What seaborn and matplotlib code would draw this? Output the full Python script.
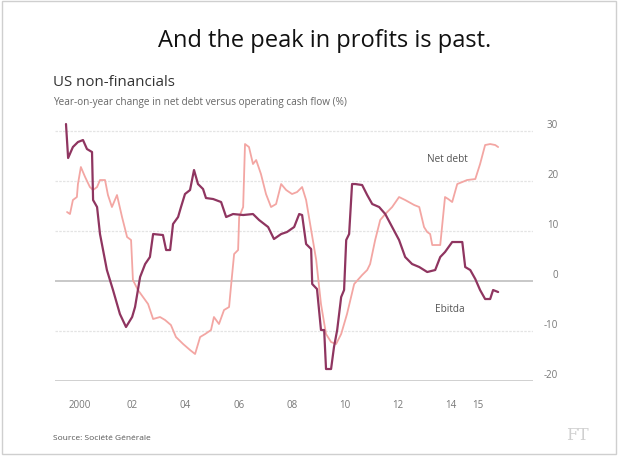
import numpy as np
import pandas as pd
import matplotlib.pyplot as plt
import matplotlib.transforms as mtransforms
from matplotlib.patches import Rectangle
import seaborn as sns

# valeurs (annee decimale, % sur un an)
ebitda_t = [2000.00, 2000.08, 2000.26, 2000.45, 2000.64, 2000.79, 2000.98, 2001.02, 2001.17,
            2001.28, 2001.54, 2001.77, 2002.03, 2002.26, 2002.49, 2002.60, 2002.79, 2002.98,
            2003.16, 2003.28, 2003.65, 2003.77, 2003.92, 2004.03, 2004.22, 2004.33, 2004.48,
            2004.67, 2004.82, 2004.97, 2005.16, 2005.27, 2005.54, 2005.84, 2006.03, 2006.29,
            2006.67, 2007.04, 2007.27, 2007.61, 2007.83, 2008.10, 2008.32, 2008.59, 2008.78,
            2008.89, 2009.04, 2009.23, 2009.27, 2009.45, 2009.60, 2009.72, 2009.79, 2009.98,
            2010.09, 2010.21, 2010.36, 2010.47, 2010.55, 2010.66, 2010.77, 2010.89, 2011.15,
            2011.34, 2011.53, 2011.79, 2012.02, 2012.28, 2012.54, 2012.77, 2013.03, 2013.30,
            2013.60, 2013.90, 2014.09, 2014.27, 2014.54, 2014.92, 2015.03, 2015.22, 2015.41,
            2015.59, 2015.78, 2015.97, 2016.08, 2016.27]
ebitda_v = [31.4, 24.6, 26.8, 27.8, 28.2, 26.4, 25.8, 16.2, 14.8,
            9.4, 2.2, -1.8, -6.6, -9.2, -7.2, -5.2, 0.8, 3.4,
            4.8, 9.4, 9.2, 6.2, 6.2, 11.4, 12.8, 14.8, 17.4,
            18.2, 22.2, 19.4, 18.4, 16.6, 16.4, 15.8, 12.8, 13.4,
            13.2, 13.4, 12.2, 10.8, 8.4, 9.4, 9.8, 10.8, 13.4,
            13.2, 7.4, 6.4, -0.6, -1.6, -9.8, -9.8, -17.6, -17.6,
            -13.2, -9.8, -3.2, -1.8, 8.2, 9.4, 19.4, 19.4, 19.2,
            17.2, 15.4, 14.8, 13.4, 10.8, 8.2, 4.8, 3.4, 2.8,
            1.8, 2.2, 4.8, 5.8, 7.8, 7.8, 2.8, 2.2, 0.4,
            -1.8, -3.6, -3.6, -1.8, -2.2]

netdebt_t = [2000.04, 2000.15, 2000.26, 2000.41, 2000.45, 2000.56, 2000.72, 2000.90, 2001.02,
             2001.17, 2001.28, 2001.47, 2001.58, 2001.73, 2001.92, 2002.11, 2002.30, 2002.45,
             2002.52, 2002.71, 2002.90, 2003.09, 2003.28, 2003.54, 2003.73, 2003.95, 2004.14,
             2004.41, 2004.67, 2004.86, 2005.05, 2005.24, 2005.46, 2005.57, 2005.76, 2005.95,
             2006.14, 2006.21, 2006.33, 2006.48, 2006.52, 2006.67, 2006.74, 2006.89, 2007.04,
             2007.16, 2007.34, 2007.53, 2007.72, 2007.91, 2008.10, 2008.29, 2008.51, 2008.70,
             2008.89, 2009.04, 2009.23, 2009.42, 2009.60, 2009.79, 2009.98, 2010.17, 2010.36,
             2010.58, 2010.85, 2011.15, 2011.34, 2011.45, 2011.64, 2011.83, 2012.02, 2012.28,
             2012.54, 2012.77, 2013.11, 2013.30, 2013.48, 2013.60, 2013.71, 2013.79, 2014.09,
             2014.27, 2014.39, 2014.54, 2014.73, 2014.92, 2015.10, 2015.41, 2015.59, 2015.78,
             2015.97, 2016.16, 2016.27]
netdebt_v = [13.8, 13.4, 16.2, 16.8, 19.4, 22.8, 20.8, 18.8, 18.2,
             18.8, 20.2, 20.2, 17.2, 14.8, 17.2, 12.8, 8.8, 8.2,
             0.2, -1.8, -3.2, -4.6, -7.6, -7.2, -7.8, -8.8, -11.2,
             -12.6, -13.8, -14.6, -11.2, -10.6, -9.8, -7.2, -8.6, -5.8,
             -5.2, -1.2, 5.4, 6.2, 12.8, 14.8, 27.4, 26.8, 23.4,
             24.2, 21.4, 17.4, 14.8, 15.4, 19.4, 18.2, 17.4, 17.8,
             18.8, 16.2, 10.2, 4.2, -4.6, -10.6, -12.2, -12.6, -10.6,
             -6.6, -0.6, 1.2, 2.2, 3.4, 8.2, 12.2, 13.4, 14.8,
             16.8, 16.2, 15.2, 14.8, 10.8, 9.8, 9.4, 7.2, 7.2,
             16.8, 16.4, 15.8, 19.4, 19.8, 20.2, 20.4, 23.4, 27.2,
             27.4, 27.2, 26.8]

years = list(range(2000, 2017))
label_years = [2000, 2002, 2004, 2006, 2008, 2010, 2012, 2014, 2015]
label_txt = ['2000', '02', '04', '06', '08', '10', '12', '14', '15']
y_ticks = [-20, -10, 0, 10, 20, 30]

ebitda_df = pd.DataFrame({'t': ebitda_t, 'v': ebitda_v})
netdebt_df = pd.DataFrame({'t': netdebt_t, 'v': netdebt_v})

sns.set_style('white')
plt.rcParams['font.family'] = ['Open Sans', 'DejaVu Sans']

fig = plt.figure(figsize=(6.2, 4.64), dpi=100)
fig.patch.set_facecolor('white')
ax = fig.add_axes([0.0887, 0.1767, 0.7713, 0.5603])
ax.set_facecolor('none')

# grille
for y in y_ticks:
    if y == 0:
        ax.axhline(y, color='#c4c4c4', lw=1.3, zorder=1)
    elif y == -20:
        ax.axhline(y, color='#c8c8c8', lw=1.2, zorder=1)
    else:
        ax.axhline(y, color='#e4e4e4', lw=0.9, ls=(0, (2, 1)), zorder=1)

sns.lineplot(data=netdebt_df, x='t', y='v', color='#f3a6a3', lw=1.3, ax=ax, zorder=3)
sns.lineplot(data=ebitda_df, x='t', y='v', color='#8f3560', lw=1.6, ax=ax, zorder=4)

ax.set_xlim(1999.586, 2017.59)
ax.set_ylim(-20, 32)
for s in ax.spines.values():
    s.set_visible(False)

ax.set_xticks(years)
ax.set_xticklabels([])
ax.set_xticks([y + 0.5 for y in label_years], minor=True)
ax.set_xticklabels(label_txt, minor=True)
ax.tick_params(axis='x', which='major', length=4, width=0.8, color='#c8c8c8', direction='out')
ax.tick_params(axis='x', which='minor', length=0, pad=13, labelsize=7, labelcolor='#777777')

ax.yaxis.tick_right()
ax.set_yticks(y_ticks)
ax.set_yticklabels([str(y) for y in y_ticks])
ax.tick_params(axis='y', length=0, pad=18, labelsize=7, labelcolor='#777777')
off = mtransforms.ScaledTranslation(0, 6 / 72, fig.dpi_scale_trans)
for lab in ax.get_yticklabels():
    lab.set_horizontalalignment('right')
    lab.set_transform(lab.get_transform() + off)
ax.set_xlabel('')
ax.set_ylabel('')

ax.text(2014.35, 24.6, 'Net debt', fontsize=7.2, color='#555555', ha='center', va='center')
ax.text(2014.46, -5.4, 'Ebitda', fontsize=7.2, color='#555555', ha='center', va='center')

fig.text(0.524, 0.912, 'And the peak in profits is past.', fontsize=17, color='#111111',
         ha='center', va='center')
fig.text(0.086, 0.823, 'US non-financials', fontsize=10.8, color='#333333', ha='left', va='center')
fig.text(0.086, 0.780, 'Year-on-year change in net debt versus operating cash flow (%)',
         fontsize=7.2, color='#666666', ha='left', va='center')
fig.text(0.086, 0.056, 'Source: Soci\u00e9t\u00e9 G\u00e9n\u00e9rale', fontsize=6, color='#555555',
         ha='left', va='center')
fig.text(0.932, 0.061, 'FT', fontsize=12, color='#d0d0d0', ha='center', va='center',
         family='DejaVu Serif')

fig.patches.append(Rectangle((0.004, 0.02), 0.99, 0.975, transform=fig.transFigure,
                             fill=False, edgecolor='#cfcfcf', lw=1))

fig.savefig('out.png', dpi=100)
